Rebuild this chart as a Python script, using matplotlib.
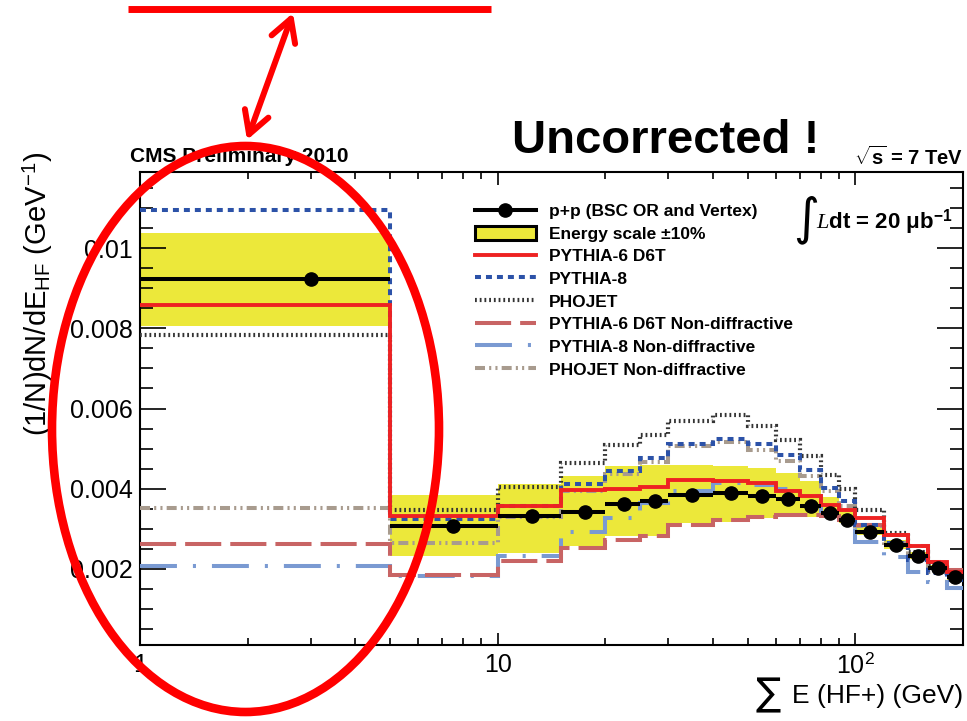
import numpy as np
import matplotlib.pyplot as plt
from matplotlib.lines import Line2D
from matplotlib.patches import Patch, Ellipse, FancyArrowPatch
from matplotlib.ticker import MultipleLocator, FixedLocator, FixedFormatter, FuncFormatter, NullFormatter

plt.rcParams['font.family'] = ['Liberation Sans', 'DejaVu Sans']
plt.rcParams['mathtext.fontset'] = 'custom'
plt.rcParams['mathtext.rm'] = 'Liberation Sans'
plt.rcParams['mathtext.bf'] = 'Liberation Sans:bold'
plt.rcParams['mathtext.it'] = 'Liberation Serif:italic'
plt.rcParams['lines.scale_dashes'] = False

# sum E in HF+ (GeV), bin edges
bin_edges = [1, 5, 10, 15, 20, 25, 30, 40, 50, 60, 70, 80, 90, 100, 120, 140, 160, 180, 200]

# (1/N) dN/dE per bin
data_pp = [0.00922, 0.00306, 0.00331, 0.00343, 0.00363, 0.00370, 0.00385, 0.00389, 0.00381,
           0.00373, 0.00358, 0.00340, 0.00323, 0.00293, 0.00260, 0.00233, 0.00203, 0.00180]
escale_hi = [0.01038, 0.00383, 0.00412, 0.00431, 0.00456, 0.00460, 0.00460, 0.00456, 0.00452,
             0.00440, 0.00418, 0.00380, 0.00348, 0.00315, 0.00272, 0.00242, 0.00210, 0.00187]
escale_lo = [0.00806, 0.00231, 0.00240, 0.00256, 0.00281, 0.00281, 0.00315, 0.00318, 0.00327,
             0.00331, 0.00330, 0.00327, 0.00315, 0.00285, 0.00250, 0.00224, 0.00196, 0.00173]

pythia6 = [0.00858, 0.00333, 0.00358, 0.00396, 0.00400, 0.00404, 0.00421, 0.00418, 0.00413,
           0.00393, 0.00381, 0.00360, 0.00348, 0.00327, 0.00285, 0.00256, 0.00218, 0.00193]
pythia8 = [0.01096, 0.00325, 0.00357, 0.00412, 0.00445, 0.00477, 0.00512, 0.00524, 0.00512,
           0.00485, 0.00446, 0.00402, 0.00368, 0.00310, 0.00264, 0.00223, 0.00190, 0.00173]
phojet = [0.00783, 0.00348, 0.00404, 0.00464, 0.00510, 0.00535, 0.00568, 0.00583, 0.00556,
          0.00521, 0.00481, 0.00435, 0.00398, 0.00348, 0.00289, 0.00243, 0.00210, 0.00190]
pythia6_nd = [0.00261, 0.00185, 0.00220, 0.00252, 0.00273, 0.00281, 0.00310, 0.00323, 0.00330,
              0.00335, 0.00335, 0.00332, 0.00322, 0.00310, 0.00285, 0.00256, 0.00218, 0.00198]
pythia8_nd = [0.00206, 0.00181, 0.00233, 0.00291, 0.00327, 0.00364, 0.00393, 0.00414, 0.00410,
              0.00400, 0.00381, 0.00339, 0.00330, 0.00268, 0.00230, 0.00193, 0.00168, 0.00152]
phojet_nd = [0.00353, 0.00264, 0.00330, 0.00393, 0.00437, 0.00466, 0.00506, 0.00516, 0.00496,
             0.00468, 0.00431, 0.00393, 0.00356, 0.00306, 0.00264, 0.00231, 0.00193, 0.00173]

x_major = [1, 10, 100]
x_major_labels = ['1', '10', '$10^{2}$']

W, H = 967, 721


def fx(px):
    return px / W


def fy(py):
    return 1 - py / H


YELLOW = '#ece83a'
RED = '#ee2222'
RED_MARK = '#ff0000'

# name, values, colour, linewidth, dash pattern (points)
mc_curves = [
    ('PYTHIA-6 D6T', pythia6, RED, 2.8, None),
    ('PYTHIA-8', pythia8, '#2c52a8', 2.9, (0, (4.3, 3.6))),
    ('PHOJET', phojet, '#333333', 3.0, (0, (1.3, 2.1))),
    ('PYTHIA-6 D6T Non-diffractive', pythia6_nd, '#c86464', 2.9, (0, (26, 6.5))),
    ('PYTHIA-8 Non-diffractive', pythia8_nd, '#7a9ad2', 2.9, (0, (26.6, 11.5, 2.2, 11.5))),
    ('PHOJET Non-diffractive', phojet_nd, '#a89b8e', 2.9, (0, (7.2, 3, 1.5, 3, 1.5, 3))),
]

fig = plt.figure(figsize=(W / 100, H / 100), dpi=100)
ax = fig.add_axes([fx(140), fy(645), fx(963) - fx(140), fy(172) - fy(645)])

edges = np.array(bin_edges, dtype=float)
centers = 0.5 * (edges[:-1] + edges[1:])
half_w = 0.5 * (edges[1:] - edges[:-1])

ax.stairs(escale_hi, edges, baseline=escale_lo, fill=True, color=YELLOW, lw=0, zorder=1)

handles = [
    Line2D([], [], color='k', lw=2.9, marker='o', ms=9.5),
    Patch(facecolor=YELLOW, edgecolor='k', lw=2.2),
]
labels = ['p+p (BSC OR and Vertex)', 'Energy scale \u00b110%']

for name, vals, col, lw, ls in reversed(mc_curves):
    ax.stairs(vals, edges, baseline=None, color=col, lw=lw,
              linestyle=ls if ls else '-', zorder=3)

for name, vals, col, lw, ls in mc_curves:
    handles.append(Line2D([], [], color=col, lw=lw, linestyle=ls if ls else '-'))
    labels.append(name)

ax.errorbar(centers, data_pp, xerr=half_w, fmt='o', color='k', ms=9.5,
            elinewidth=2.9, capsize=0, zorder=10)

ax.set_xscale('log')
ax.set_xlim(1, 200)
ax.set_ylim(0.0001, 0.0119)

ax.xaxis.set_major_locator(FixedLocator(x_major))
ax.xaxis.set_major_formatter(FixedFormatter(x_major_labels))
ax.xaxis.set_minor_formatter(NullFormatter())
ax.yaxis.set_major_locator(MultipleLocator(0.002))
ax.yaxis.set_minor_locator(MultipleLocator(0.0005))
ax.yaxis.set_major_formatter(FuncFormatter(lambda v, _: f'{v:g}'))

ax.tick_params(which='both', direction='in', top=True, right=True, width=1.2, labelsize=18)
ax.tick_params(axis='y', which='major', length=18.5, pad=5)
ax.tick_params(axis='y', which='minor', length=9.5)
ax.tick_params(axis='x', which='major', length=9, pad=6)
ax.tick_params(axis='x', which='minor', length=5)
for sp in ax.spines.values():
    sp.set_linewidth(1.5)

ax.legend(handles, labels, loc='upper left', bbox_to_anchor=(fx(475), fy(203)),
          bbox_transform=fig.transFigure, frameon=False, borderpad=0, borderaxespad=0,
          handlelength=3.5, handleheight=0.9, handletextpad=0.75, labelspacing=0.37,
          prop={'weight': 'bold', 'size': 12.5})

fig.text(fx(130), fy(157), 'CMS Preliminary 2010', weight='bold', size=15, ha='left', va='center')
fig.text(fx(963), fy(157), r'$\sqrt{\mathbf{s}}$ = 7 TeV', weight='bold', size=14.5,
         ha='right', va='center')
fig.text(fx(806), fy(220), '\u222b', size=36, ha='center', va='center',
         family=['DejaVu Sans'])
fig.text(fx(816), fy(222), r'$\mathit{L}$dt = 20 ' + '\u03bc' + r'b$^{\mathbf{-1}}$',
         weight='bold', size=16, ha='left', va='center')

fig.text(fx(38), fy(294), r'(1/N)dN/dE$_{\mathrm{HF}}$ (GeV$^{-1}$)', rotation=90,
         size=21, ha='center', va='center')
fig.text(fx(963), fy(703), 'E (HF+) (GeV)', size=19, ha='right', va='baseline')
fig.text(fx(768), fy(695), '\u2211', size=27, ha='center', va='center', family=['DejaVu Sans'])

fig.text(fx(512), fy(153), 'Uncorrected !', size=34, weight='bold', ha='left', va='baseline')

# red markup over the plot
fig.add_artist(Line2D([fx(128), fx(491)], [fy(9), fy(9)], color=RED_MARK, lw=5,
                      solid_capstyle='butt', transform=fig.transFigure, zorder=20))
fig.add_artist(FancyArrowPatch((fx(293), fy(13)), (fx(247), fy(140)),
                               arrowstyle='<->,head_length=16,head_width=9',
                               color=RED_MARK, lw=4.3, capstyle='round', joinstyle='round',
                               shrinkA=0, shrinkB=0, transform=fig.transFigure, zorder=20))
fig.add_artist(Ellipse((fx(245.5), fy(429)), fx(387), 566 / H, fill=False,
                       edgecolor=RED_MARK, lw=6.2, transform=fig.transFigure, zorder=20))

fig.savefig('out.png', dpi=100)
